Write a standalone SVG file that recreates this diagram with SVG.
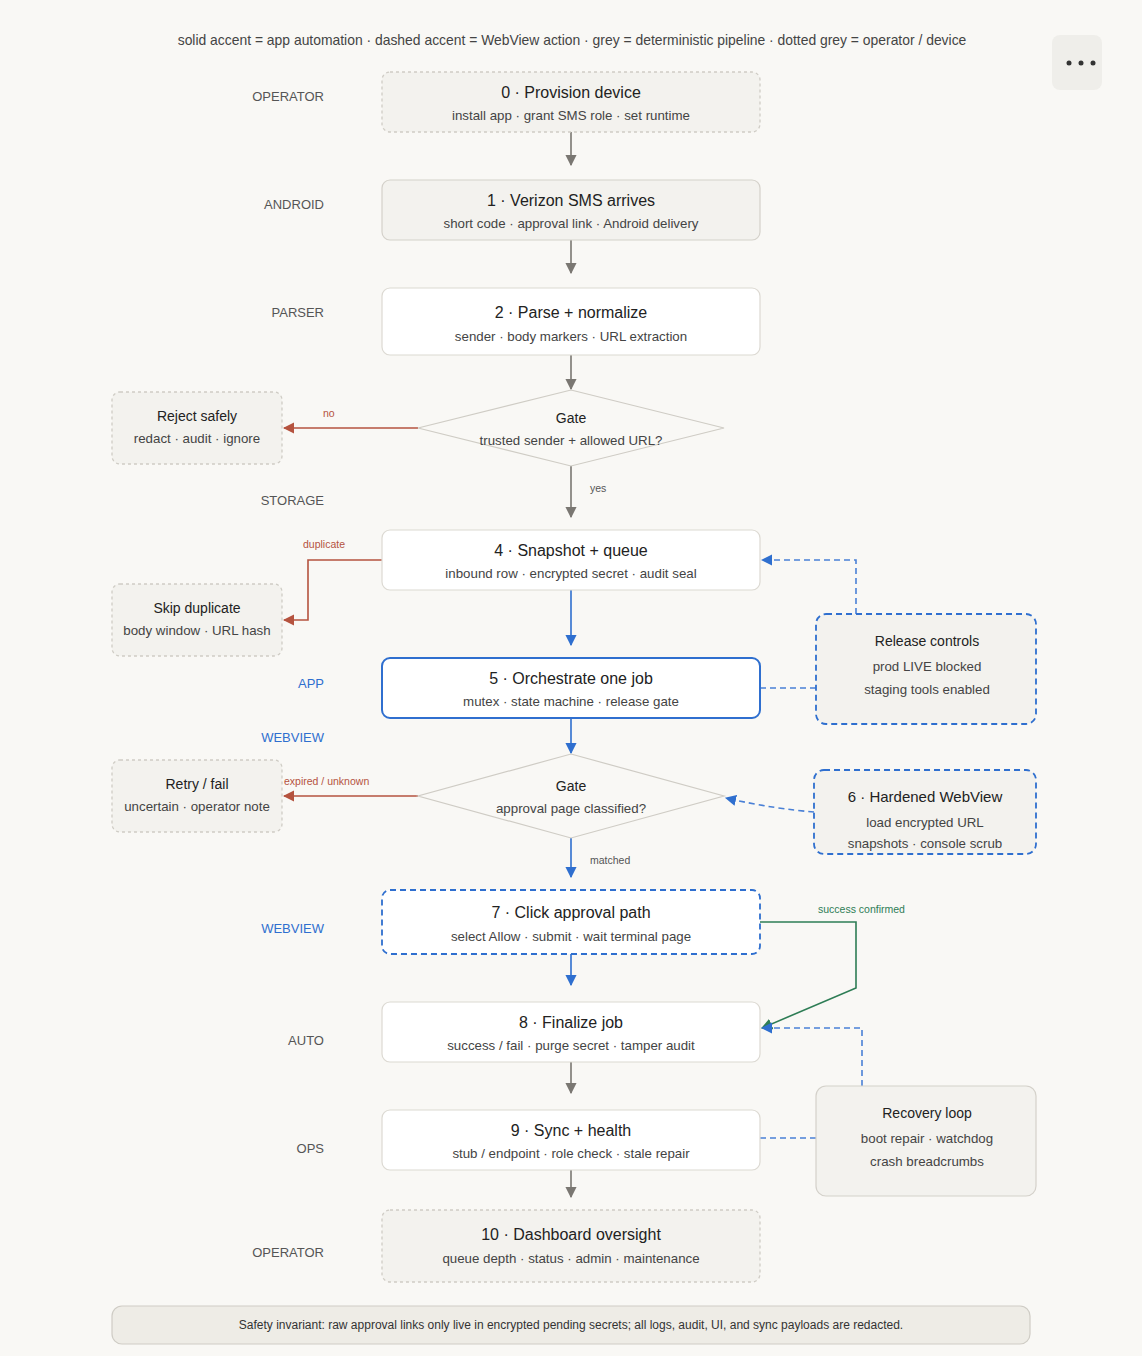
<svg xmlns="http://www.w3.org/2000/svg" width="1142" height="1356" viewBox="0 0 1142 1356">
<defs>
<style>
text{font-family:"Liberation Sans",Arial,sans-serif}
.t{font-size:16px;fill:#222;text-anchor:middle}
.s{font-size:13.3px;fill:#444;text-anchor:middle}
.lane{font-size:13px;fill:#555;text-anchor:end}
.laneb{font-size:13px;fill:#2f6fcf;text-anchor:end}
.w{fill:#fff;stroke:#dcd9d2;stroke-width:1.2}
.g{fill:#f3f2ee;stroke:#d4d1ca;stroke-width:1.2}
.gd{fill:#f3f2ee;stroke:#cfccc5;stroke-width:1.3;stroke-dasharray:3 3}
.bd{fill:#f3f2ee;stroke:#2f6fcf;stroke-width:1.8;stroke-dasharray:6 4}
.gr{stroke:#7a7772;stroke-width:1.6;fill:none}
.bl{stroke:#2f6fcf;stroke-width:1.6;fill:none}
.bld{stroke:#4a80d6;stroke-width:1.6;fill:none;stroke-dasharray:6 4}
.rd{stroke:#b5533f;stroke-width:1.6;fill:none}
.gn{stroke:#2e7d55;stroke-width:1.6;fill:none}
.lbl{font-size:10.5px}
</style>
<marker id="ag" viewBox="0 0 10 10" refX="9" refY="5" markerWidth="7" markerHeight="7" orient="auto"><path d="M0,0L10,5L0,10z" fill="#7a7772"/></marker>
<marker id="ab" viewBox="0 0 10 10" refX="9" refY="5" markerWidth="7" markerHeight="7" orient="auto"><path d="M0,0L10,5L0,10z" fill="#2f6fcf"/></marker>
<marker id="ar" viewBox="0 0 10 10" refX="9" refY="5" markerWidth="7" markerHeight="7" orient="auto"><path d="M0,0L10,5L0,10z" fill="#b5533f"/></marker>
<marker id="an" viewBox="0 0 10 10" refX="9" refY="5" markerWidth="7" markerHeight="7" orient="auto"><path d="M0,0L10,5L0,10z" fill="#2e7d55"/></marker>
</defs>
<rect width="1142" height="1356" fill="#f9f8f5"/>
<text x="572" y="45" style="font-size:13.9px;fill:#444;text-anchor:middle">solid accent = app automation · dashed accent = WebView action · grey = deterministic pipeline · dotted grey = operator / device</text>
<g id="menu"><rect x="1052" y="35" width="50" height="55" rx="8" fill="#efeeea"/><circle cx="1069" cy="63" r="2.5" fill="#333"/><circle cx="1081" cy="63" r="2.5" fill="#333"/><circle cx="1093" cy="63" r="2.5" fill="#333"/></g>
<g id="lanes">
<text class="lane" x="324" y="101">OPERATOR</text>
<text class="lane" x="324" y="209">ANDROID</text>
<text class="lane" x="324" y="317">PARSER</text>
<text class="lane" x="324" y="505">STORAGE</text>
<text class="laneb" x="324" y="688">APP</text>
<text class="laneb" x="324" y="742">WEBVIEW</text>
<text class="laneb" x="324" y="933">WEBVIEW</text>
<text class="lane" x="324" y="1045">AUTO</text>
<text class="lane" x="324" y="1153">OPS</text>
<text class="lane" x="324" y="1257">OPERATOR</text>
</g>
<g id="connectors">
<path class="gr" d="M571 132V165" marker-end="url(#ag)"/>
<path class="gr" d="M571 240V273" marker-end="url(#ag)"/>
<path class="gr" d="M571 355V389" marker-end="url(#ag)"/>
<path class="gr" d="M571 466V517" marker-end="url(#ag)"/>
<text class="lbl" x="590" y="492" fill="#555">yes</text>
<path class="rd" d="M418 428H284" marker-end="url(#ar)"/>
<text class="lbl" x="323" y="417" fill="#b5533f">no</text>
<path class="rd" d="M382 560H308V620H284" marker-end="url(#ar)"/>
<text class="lbl" x="303" y="548" fill="#b5533f">duplicate</text>
<path class="bl" d="M571 590V645" marker-end="url(#ab)"/>
<path class="bld" d="M856 614V560H762" marker-end="url(#ab)"/>
<path class="bld" d="M760 688H816"/>
<path class="bl" d="M571 718V753" marker-end="url(#ab)"/>
<path class="rd" d="M418 796H284" marker-end="url(#ar)"/>
<text class="lbl" x="284" y="785" fill="#b5533f">expired / unknown</text>
<path class="bld" d="M814 812C790 810 760 806 726 798" marker-end="url(#ab)"/>
<path class="bl" d="M571 838V877" marker-end="url(#ab)"/>
<text class="lbl" x="590" y="864" fill="#555">matched</text>
<path class="bl" d="M571 954V985" marker-end="url(#ab)"/>
<path class="gn" d="M760 922H856V988L762 1028" marker-end="url(#an)"/>
<text class="lbl" x="818" y="913" fill="#2e7d55">success confirmed</text>
<path class="bld" d="M862 1086V1028H762" marker-end="url(#ab)"/>
<path class="gr" d="M571 1062V1093" marker-end="url(#ag)"/>
<path class="bld" d="M760 1138H816"/>
<path class="gr" d="M571 1170V1197" marker-end="url(#ag)"/>
</g>
<g id="n0"><rect class="gd" x="382" y="72" width="378" height="60" rx="8"/><text class="t" x="571" y="98">0 · Provision device</text><text class="s" x="571" y="120">install app · grant SMS role · set runtime</text></g>
<g id="n1"><rect class="g" x="382" y="180" width="378" height="60" rx="8"/><text class="t" x="571" y="206">1 · Verizon SMS arrives</text><text class="s" x="571" y="228">short code · approval link · Android delivery</text></g>
<g id="n2"><rect class="w" x="382" y="288" width="378" height="67" rx="8"/><text class="t" x="571" y="318">2 · Parse + normalize</text><text class="s" x="571" y="341">sender · body markers · URL extraction</text></g>
<g id="gate1"><polygon points="571,390 724,428 571,466 418,428" fill="#f9f8f5" stroke="#cfccc5" stroke-width="1.2"/><text x="571" y="423" style="font-size:14px;fill:#222;text-anchor:middle">Gate</text><text class="s" x="571" y="445">trusted sender + allowed URL?</text></g>
<g id="reject"><rect class="gd" x="112" y="392" width="170" height="72" rx="8"/><text x="197" y="421" style="font-size:14px;fill:#222;text-anchor:middle">Reject safely</text><text class="s" x="197" y="443">redact · audit · ignore</text></g>
<g id="n4"><rect class="w" x="382" y="530" width="378" height="60" rx="8"/><text class="t" x="571" y="556">4 · Snapshot + queue</text><text class="s" x="571" y="578">inbound row · encrypted secret · audit seal</text></g>
<g id="skip"><rect class="gd" x="112" y="584" width="170" height="72" rx="8"/><text x="197" y="613" style="font-size:14px;fill:#222;text-anchor:middle">Skip duplicate</text><text class="s" x="197" y="635">body window · URL hash</text></g>
<g id="release"><rect class="bd" x="816" y="614" width="220" height="110" rx="10"/><text x="927" y="646" style="font-size:14px;fill:#222;text-anchor:middle">Release controls</text><text class="s" x="927" y="671">prod LIVE blocked</text><text class="s" x="927" y="694">staging tools enabled</text></g>
<g id="n5"><rect x="382" y="658" width="378" height="60" rx="8" fill="#fff" stroke="#2f6fcf" stroke-width="2"/><text class="t" x="571" y="684">5 · Orchestrate one job</text><text class="s" x="571" y="706">mutex · state machine · release gate</text></g>
<g id="gate2"><polygon points="571,754 724,796 571,838 418,796" fill="#f9f8f5" stroke="#cfccc5" stroke-width="1.2"/><text x="571" y="791" style="font-size:14px;fill:#222;text-anchor:middle">Gate</text><text class="s" x="571" y="813">approval page classified?</text></g>
<g id="retry"><rect class="gd" x="112" y="760" width="170" height="72" rx="8"/><text x="197" y="789" style="font-size:14px;fill:#222;text-anchor:middle">Retry / fail</text><text class="s" x="197" y="811">uncertain · operator note</text></g>
<g id="n6"><rect class="bd" x="814" y="770" width="222" height="84" rx="10"/><text class="t" x="925" y="802" style="font-size:15px">6 · Hardened WebView</text><text class="s" x="925" y="827">load encrypted URL</text><text class="s" x="925" y="848">snapshots · console scrub</text></g>
<g id="n7"><rect x="382" y="890" width="378" height="64" rx="8" fill="#fff" stroke="#2f6fcf" stroke-width="1.8" stroke-dasharray="6 4"/><text class="t" x="571" y="918">7 · Click approval path</text><text class="s" x="571" y="941">select Allow · submit · wait terminal page</text></g>
<g id="n8"><rect class="w" x="382" y="1002" width="378" height="60" rx="8"/><text class="t" x="571" y="1028">8 · Finalize job</text><text class="s" x="571" y="1050">success / fail · purge secret · tamper audit</text></g>
<g id="recovery"><rect class="g" x="816" y="1086" width="220" height="110" rx="10"/><text x="927" y="1118" style="font-size:14px;fill:#222;text-anchor:middle">Recovery loop</text><text class="s" x="927" y="1143">boot repair · watchdog</text><text class="s" x="927" y="1166">crash breadcrumbs</text></g>
<g id="n9"><rect class="w" x="382" y="1110" width="378" height="60" rx="8"/><text class="t" x="571" y="1136">9 · Sync + health</text><text class="s" x="571" y="1158">stub / endpoint · role check · stale repair</text></g>
<g id="n10"><rect class="gd" x="382" y="1210" width="378" height="72" rx="8"/><text class="t" x="571" y="1240">10 · Dashboard oversight</text><text class="s" x="571" y="1263">queue depth · status · admin · maintenance</text></g>
<g id="footer"><rect x="112" y="1306" width="918" height="38" rx="10" fill="#eeece6" stroke="#cfccc5" stroke-width="1.2"/><text x="571" y="1329" style="font-size:12px;fill:#333;text-anchor:middle">Safety invariant: raw approval links only live in encrypted pending secrets; all logs, audit, UI, and sync payloads are redacted.</text></g>
</svg>
